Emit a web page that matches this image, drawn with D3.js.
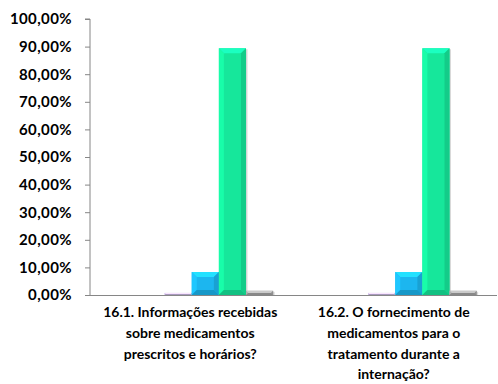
<!DOCTYPE html>
<html><head><meta charset="utf-8">
<script src="https://cdn.jsdelivr.net/npm/d3@7"></script>
<style>body{margin:0;background:#fff}svg{display:block}</style>
</head><body>
<script>
const categories = [
  ["16.1. Informações recebidas","sobre medicamentos","prescritos e horários?"],
  ["16.2. O fornecimento de","medicamentos para o","tratamento durante a","internação?"]
];
const seriesNames = ["S1","S2","S3","S4","S5","S6"];
const seriesColors = ["#7f7f7f","#7f7f7f","#c9b8e3","#1cb6ef","#16e79b","#a3a3a3"];
const values = [
  [0, 0, 0.76, 8.33, 89.39, 1.52],
  [0, 0, 0.76, 8.33, 89.39, 1.52]
];
const yTicks = [0,10,20,30,40,50,60,70,80,90,100];

const W=498,H=384;
const m={left:90,right:1,top:19,bottom:89};
const svg=d3.select("body").append("svg").attr("width",W).attr("height",H);
const x0=d3.scaleBand().domain(d3.range(categories.length)).range([m.left,W-m.right]).paddingInner(0).paddingOuter(0);
const y=d3.scaleLinear().domain([0,100]).range([H-m.bottom,m.top]);
const bw=x0.bandwidth()/(seriesNames.length+1.5);
const x1=d3.scaleBand().domain(d3.range(seriesNames.length)).range([bw*0.75,bw*0.75+bw*seriesNames.length]).padding(0);

const fontFam="Lato, 'Open Sans', sans-serif";
// y axis
const ya=svg.append("g").attr("transform",`translate(${m.left},0)`)
  .call(d3.axisLeft(y).tickValues(yTicks).tickSize(5).tickFormat(d=>d3.format(".2f")(d).replace(".",",")+"%"));
ya.select(".domain").attr("stroke","#868686").attr("d",`M-5,${y(100)}H0V${y(0)}`);
ya.selectAll(".tick line").attr("stroke","#868686");
ya.selectAll(".tick text").attr("font-family",fontFam).attr("font-weight","bold").attr("font-size","15px")
  .attr("letter-spacing","0.4px").attr("fill","#000").attr("x",-18);

// bars
const g=svg.append("g");
values.forEach((row,ci)=>{
  row.forEach((v,si)=>{
    if(v<=0) return;
    const xa=x0(ci)+x1(si), xb=xa+x1.bandwidth();
    const ya0=y(v), yb=y(0);
    const h=yb-ya0;
    const c=d3.color(seriesColors[si]);
    const b=Math.min(5,h/2, (xb-xa)/2);
    g.append("rect").attr("x",xa+1.5).attr("y",ya0+1).attr("width",xb-xa).attr("height",h).attr("fill","#000").attr("opacity",0.15);
    g.append("rect").attr("x",xa).attr("y",ya0).attr("width",xb-xa).attr("height",h).attr("fill",c.formatHex());
    g.append("polygon").attr("points",[[xa,ya0],[xb,ya0],[xb-b,ya0+b],[xa+b,ya0+b]].join(" ")).attr("fill",c.brighter(0.6).formatHex());
    g.append("polygon").attr("points",[[xa,ya0],[xa+b,ya0+b],[xa+b,yb-b],[xa,yb]].join(" ")).attr("fill",c.brighter(0.25).formatHex());
    g.append("polygon").attr("points",[[xb,ya0],[xb-b,ya0+b],[xb-b,yb-b],[xb,yb]].join(" ")).attr("fill",c.darker(0.35).formatHex());
    g.append("polygon").attr("points",[[xa,yb],[xa+b,yb-b],[xb-b,yb-b],[xb,yb]].join(" ")).attr("fill",c.darker(0.5).formatHex());
  });
});

// x axis line
svg.append("line").attr("x1",m.left).attr("x2",W-m.right).attr("y1",y(0)+0.5).attr("y2",y(0)+0.5).attr("stroke","#868686");

// category labels
categories.forEach((lines,ci)=>{
  const t=svg.append("text").attr("text-anchor","middle").attr("font-family",fontFam).attr("font-weight","bold").attr("font-size","14px").attr("fill","#000");
  lines.forEach((l,i)=>t.append("tspan").attr("x",x0(ci)+x0.bandwidth()/2-1.5).attr("y",317+i*20.8).text(l));
});
</script>
</body></html>
